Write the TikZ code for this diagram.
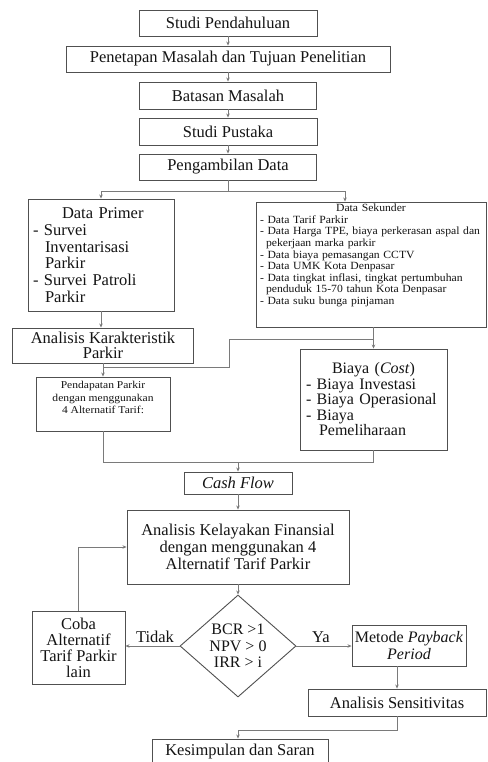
\documentclass[tikz,border=0pt]{standalone}
\usepackage{fontspec}
\setmainfont{Liberation Serif}
\newfontfamily\wideserif[FakeStretch=1.06]{Liberation Serif}
\newfontfamily\midserif[FakeStretch=1.1]{Liberation Serif}
\usetikzlibrary{shapes.geometric,arrows.meta}
\definecolor{bordc}{HTML}{505050}
\definecolor{linec}{HTML}{7A7A7A}
\definecolor{txtc}{HTML}{141414}
\newcommand\fsz[2]{\fontsize{#1}{#2}\selectfont}
\begin{document}
\begin{tikzpicture}[x=1pt,y=-1pt,
  box/.style={draw=bordc,line width=0.9pt,inner sep=0pt,align=center,text=txtc,font=\fsz{16.5}{17}},
  conn/.style={draw=linec,line width=0.8pt},
  arr/.style={conn,-{Stealth[length=4pt,width=3.5pt]}},
  lbl/.style={text=txtc,font=\fsz{16.5}{17},inner sep=0pt}]
\useasboundingbox[fill=white] (0,0) rectangle (487,762);
% top chain
\node[box,minimum width=178pt,minimum height=26pt] (sp) at (228,23) {Studi Pendahuluan};
\node[box,minimum width=324pt,minimum height=26pt] (pm) at (228,59) {Penetapan Masalah dan Tujuan Penelitian};
\node[box,minimum width=177pt,minimum height=27pt] (bm) at (228,95.5) {Batasan Masalah};
\node[box,minimum width=178pt,minimum height=27pt] (spu) at (228,131.5) {Studi Pustaka};
\node[box,minimum width=177pt,minimum height=26pt] (pd) at (228,167) {Pengambilan Data};
% data boxes
\node[box,align=left,text width=136pt,inner xsep=5pt,minimum height=112pt,font=\fsz{16.5}{16.7}] (dp) at (101,255)
 {\hspace*{29pt}Data Primer\\- Survei\\\hspace*{12pt}Inventarisasi\\\hspace*{12pt}Parkir\\- Survei Patroli\\\hspace*{12pt}Parkir};
\node[box,align=left,text width=222pt,inner xsep=4pt,minimum height=125pt,font=\wideserif\fsz{11}{11.6}] (ds) at (371,264.5)
 {\makebox[\linewidth]{Data Sekunder}\\\mbox{- Data Tarif Parkir}\\\mbox{- Data Harga TPE, biaya perkerasan aspal dan}\\\mbox{\hspace*{6pt}pekerjaan marka parkir}\\\mbox{- Data biaya pemasangan CCTV}\\\mbox{- Data UMK Kota Denpasar}\\\mbox{- Data tingkat inflasi, tingkat pertumbuhan}\\\mbox{\hspace*{6pt}penduduk 15-70 tahun Kota Denpasar}\\\mbox{- Data suku bunga pinjaman}\\\rule{0pt}{17pt}};
\node[box,minimum width=181pt,minimum height=35pt,font=\fsz{16.5}{15}] (ak) at (103,345.5) {Analisis Karakteristik\\Parkir};
\node[box,minimum width=134pt,minimum height=54pt,font=\midserif\fsz{10.5}{12.5}] (pp) at (103,404)
 {Pendapatan Parkir\\dengan menggunakan\\4 Alternatif Tarif:\\\rule{0pt}{1pt}};
\node[box,align=left,text width=135pt,inner xsep=6pt,minimum height=101pt,font=\fsz{16}{15.5}] (bi) at (373.5,399.5)
 {\makebox[\linewidth]{Biaya (\textit{Cost})}\\- Biaya Investasi\\- Biaya Operasional\\- Biaya\\\hspace*{13pt}Pemeliharaan};
% lower part
\node[box,minimum width=108pt,minimum height=22pt] (cf) at (238,483) {\textit{Cash Flow}};
\node[box,minimum width=222pt,minimum height=74pt] (kl) at (238,547) {Analisis Kelayakan Finansial\\dengan menggunakan 4\\Alternatif Tarif Parkir};
\node[box,diamond,minimum width=116pt,minimum height=102pt,aspect=1.14,font=\fsz{16}{16.5}] (dia) at (238,646) {BCR >1\\NPV > 0\\IRR > i};
\node[box,minimum width=93pt,minimum height=73pt,font=\fsz{16.5}{16}] (cb) at (78.5,647.5) {Coba\\Alternatif\\Tarif Parkir\\lain};
\node[box,minimum width=114pt,minimum height=41pt,font=\fsz{16}{17}] (met) at (409,645.5) {Metode \textit{Payback}\\\textit{Period}};
\node[box,minimum width=178pt,minimum height=27pt] (se) at (397,702.5) {Analisis Sensitivitas};
\node[box,minimum width=176pt,minimum height=26pt] (ks) at (240,752) {Kesimpulan dan Saran};
\node[lbl] (tl) at (155,637) {Tidak};
\node[lbl] (yl) at (321,637) {Ya};
% connectors
\draw[arr] (sp) -- (pm);
\draw[arr] (pm) -- (bm);
\draw[arr] (bm) -- (spu);
\draw[arr] (spu) -- (pd);
\coordinate (br) at (228,191);
\draw[conn] (pd.south) -- (br);
\draw[arr] (br) -| (dp.north);
\draw[arr] (br) -| ([xshift=-26pt]ds.north);
\draw[arr] (dp.south) -- (dp.south |- ak.north);
\draw[arr] (ak) -- (pp);
\coordinate (j1) at (373.5,339);
\draw[arr] (j1 |- ds.south) -- (bi.north);
\draw[conn] (j1) -| (229,367) -- (ak.south |- 0,367);
\coordinate (j2) at (238,462);
\draw[conn] (pp.south) |- (j2);
\draw[conn] (bi.south) |- (j2);
\draw[arr] (j2) -- (cf.north);
\draw[arr] (cf) -- (kl);
\draw[arr] (kl) -- (dia);
\draw[arr] (dia.west) -- (cb.east |- dia.west);
\draw[arr] (dia.east) -- (met.west |- dia.east);
\draw[arr] (cb.north) |- (kl.west);
\draw[arr] (se.north |- met.south) -- (se.north);
\coordinate (j3) at (238,730);
\draw[conn] (se.south) |- (j3);
\draw[arr] (j3) -- (j3 |- ks.north);
\end{tikzpicture}
\end{document}
